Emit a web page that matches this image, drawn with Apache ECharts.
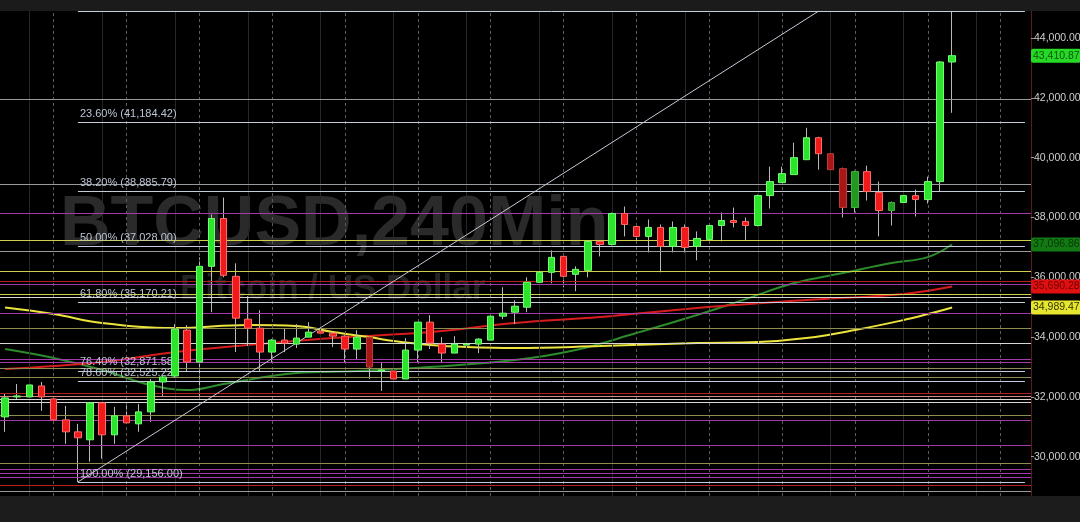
<!DOCTYPE html>
<html><head><meta charset="utf-8">
<script src="https://cdn.jsdelivr.net/npm/echarts@6/dist/echarts.min.js"></script>
<style>html,body{margin:0;padding:0;background:#000;}#c{width:1080px;height:522px;}</style>
</head><body><div id="c"></div><script>
// ---- data ----
const opens  = [31333,32000,32000,32367,31933,31233,30833,30567,31800,30733,31367,31100,31500,32500,32700,34233,33167,36367,37967,36033,34600,34300,33500,33900,33767,34000,34200,34133,34033,33600,34000,32867,32867,32600,33567,34500,33767,33467,33733,33767,33900,34700,34833,35000,35833,36167,36700,36100,36233,37200,37100,38133,37700,37367,37667,37033,37667,37033,37267,37733,37900,37867,37733,38733,39167,39433,39933,40667,40133,39633,38333,39533,38833,38233,38500,38733,38600,39200,43200];
const closes = [31967,32033,32400,32000,31233,30833,30633,31800,30733,31367,31133,31500,32500,32667,34267,33167,36367,37967,36067,34633,34300,33500,33900,33800,33967,34167,34133,34033,33600,34000,33000,32900,32600,33567,34500,33800,33467,33767,33767,33933,34700,34800,35033,35833,36167,36667,36033,36267,37200,37100,38133,37767,37367,37667,37033,37667,37000,37300,37733,37900,37833,37733,38733,39200,39467,40000,40667,40133,39600,38333,39533,38867,38233,38500,38733,38600,39200,43200,43410.87];
const lows   = [30833,31900,32000,31533,31200,30433,29156,29833,29933,30433,31100,30833,31167,32033,32700,32833,32033,34833,36000,33500,33700,32867,33167,33500,33633,34000,33867,33667,33167,33267,32600,32200,32367,32600,33167,33600,33133,33467,33433,33467,33900,34600,34433,34833,35367,35800,35667,35533,36000,36700,37067,37367,37167,36833,36167,36833,36833,36567,37233,37200,37667,37233,37700,38300,39167,39433,39933,39600,38733,38000,38167,38567,37367,37733,38367,38033,38467,38867,41500];
const highs  = [32100,32433,33000,32500,31967,31700,31100,31833,31833,31667,31767,31767,32600,32700,34433,34400,36667,38100,38667,36467,35367,34900,33933,34300,34433,34500,34833,34167,34067,34233,34033,33167,33233,33967,34500,34733,34000,34033,34167,33967,34733,35667,35233,36000,36200,36900,36733,36367,37233,37233,38167,38367,37767,37933,37767,37867,37767,37533,37767,38167,38333,38000,38767,39700,39700,40500,41000,40700,40500,39667,39567,39733,39200,38533,39200,38933,39367,43233,44900];
const emptySlots = 6;

// moving averages, [candle index, value]
const maYellow = [[0,34989],[4,34770],[8,34470],[14,34302],[20,34403],[24,34369],[27,34168],[30,34001],[32,33868],[35,33734],[38,33667],[42,33634],[49,33701],[57,33801],[62,33834],[66,33968],[70,34236],[74,34570],[76,34770],[78,34989.47]];
const maRed    = [[0,32932],[8,33166],[14,33500],[20,33734],[27,33968],[35,34168],[42,34470],[49,34670],[57,34971],[66,35239],[74,35440],[78,35690.28]];
const maGreen  = [[0,33600],[4,33300],[8,32898],[12,32396],[15,32229],[18,32430],[24,32798],[29,32865],[35,32999],[42,33233],[47,33567],[52,34135],[57,34737],[61,35272],[65,35807],[69,36141],[73,36476],[76,36676],[78,37096.86]];

// fibonacci retracement
const fibPct  = ['0.00%','23.60%','38.20%','50.00%','61.80%','76.40%','78.60%','100.00%'];
const fibVals = [44900,41184.42,38885.79,37028.00,35170.21,32871.58,32525.22,29156.00];
const fibStart = 6;
const trendLine = [[6,29156],[67,44900]];

// horizontal levels by colour group
const grayLevels    = [41962,39120,36879,28854];
const whiteLevels   = [35341,33803,31930,31830];
const magentaLevels = [38150,35776,34806,33268,33168,31228,30392,29590,29456,29322];
const yellowLevels  = [37247,36211,35441];
const oliveLevels   = [34305,32967,32666,31395,29790];
const redLevels     = [35876,32131,29055];
const pinkLevels    = [32030];

const yTicks = [30000,32000,34000,36000,38000,40000,42000,44000];
const lastPrice = 43410.87, lastGreen = 37096.86, lastRed = 35690.28, lastYellow = 34989.47;
const dimCandles = [30,68,69,70,73];

// ---- build chart ----
const fmt = v => v.toLocaleString('en-US',{minimumFractionDigits:2,maximumFractionDigits:2});
const nCat = opens.length + emptySlots;
const cats = []; for (let i=0;i<nCat;i++) cats.push(String(i));

const wickData = opens.map((o,i)=>[o,closes[i],lows[i],highs[i]]);
const bodyData = opens.map((o,i)=>{
  const c = closes[i];
  const it = {value:[o,c,Math.min(o,c),Math.max(o,c)]};
  if (dimCandles.includes(i)) it.itemStyle = c>=o ? {color:'#1f9a1f',color0:'#1f9a1f',borderColor:'#3fb03f',borderColor0:'#3fb03f'} : {color:'#a81616',color0:'#a81616',borderColor:'#c03a3a',borderColor0:'#c03a3a'};
  return it;
});

const levelGroups = [
  [grayLevels,'#9a9a9a'],[whiteLevels,'#d6d6d6'],[magentaLevels,'#a23aaa'],
  [yellowLevels,'#cfcf4a'],[oliveLevels,'#8e8c4e'],[redLevels,'#b41e1e'],[pinkLevels,'#d88a8a']
];
const levelLines = [];
levelGroups.forEach(([arr,col])=>arr.forEach(v=>levelLines.push({yAxis:v,lineStyle:{color:col,width:1,type:'solid'}})));

const fibLines = fibVals.map((v,k)=>[
  {coord:[String(fibStart),v], lineStyle:{color:'#c4ccda',width:1,type:'solid'},
   label:{show:k>0, position:'insideStartTop', distance:[2,3], formatter: fibPct[k]+' ('+fmt(v)+')', color:'#bcc4d4', fontSize:11, fontFamily:'Liberation Sans, Arial'}},
  {coord:[String(nCat-1),v]}
]);
fibLines.push([{coord:[String(trendLine[0][0]),trendLine[0][1]], lineStyle:{color:'#c8c8d8',width:1,type:'solid'}, label:{show:false}},{coord:[String(trendLine[1][0]),trendLine[1][1]]}]);

const vLines = [];
for (let i=4;i<nCat;i+=6) vLines.push({xAxis:String(i), lineStyle:{color:'#5c5c5c',width:1,type:[3,3]}});
for (let i=2;i<nCat;i+=6) vLines.push({xAxis:String(i), lineStyle:{color:'#262626',width:1,type:'solid'}});

const tagDefs = [
  [lastPrice,'#27d827','#0b560b'],[lastGreen,'#137a13','#063806'],
  [lastRed,'#e01010','#6a0000'],[lastYellow,'#e6e62e','#333300']
];
const tagLines = tagDefs.map(([v,bg,fg])=>({yAxis:v, lineStyle:{color:'rgba(0,0,0,0)',width:0},
  label:{show:true, position:'end', distance:0, formatter:fmt(v), backgroundColor:bg, color:fg, padding:[2,1,1,2], borderRadius:2, fontSize:10.5, fontFamily:'Liberation Sans, Arial'}}));

const mk = (data)=>({silent:true, symbol:['none','none'], animation:false, label:{show:false}, data});

const chart = echarts.init(document.getElementById('c'), null, {renderer:'canvas'});
chart.setOption({
  backgroundColor:'#000',
  animation:false,
  textStyle:{fontFamily:'Liberation Sans, Arial'},
  graphic:[
    {type:'rect', z:0, shape:{x:0,y:0,width:1080,height:11}, style:{fill:'#1b1b1b'}},
    {type:'rect', z:0, shape:{x:0,y:496,width:1080,height:26}, style:{fill:'#1c1c1c'}},
    {type:'text', z:0, x:60, y:226, style:{text:'BTCUSD,240Min', font:'bold 70px "Liberation Sans", Arial', fill:'#2a2a2a', textVerticalAlign:'middle'}},
    {type:'text', z:0, x:180, y:289, style:{text:'Bitcoin / US Dollar', font:'bold 35px "Liberation Sans", Arial', fill:'#232323', textVerticalAlign:'middle'}}
  ],
  grid:{left:-1, right:49, top:11, bottom:26, show:false, outerBoundsMode:'none', containLabel:false},
  xAxis:{type:'category', data:cats, boundaryGap:true, axisLine:{show:false}, axisTick:{show:false}, axisLabel:{show:false}, splitLine:{show:false}},
  yAxis:{type:'value', position:'right', min:28687, max:44905,
    axisLine:{show:true, lineStyle:{color:'#5e1a1a'}},
    axisTick:{show:true, length:3, customValues:yTicks, lineStyle:{color:'#9a9a9a'}},
    axisLabel:{customValues:yTicks, color:'#cfcfcf', fontSize:10.5, margin:3, formatter:v=>fmt(v)},
    splitLine:{show:false}},
  series:[
    {type:'line', name:'vgrid', data:[], z:1, clip:false, markLine:mk(vLines)},
    {type:'line', name:'levels', data:[], z:1, clip:false, markLine:mk(levelLines)},
    {type:'line', name:'fib', data:[], z:2, clip:true, markLine:mk(fibLines)},
    {type:'line', name:'maGreen', data:maGreen, smooth:0.4, showSymbol:false, z:3, lineStyle:{color:'#2c8c2c',width:2}},
    {type:'line', name:'maRed', data:maRed, smooth:0.4, showSymbol:false, z:3, lineStyle:{color:'#d81c1c',width:2}},
    {type:'line', name:'maYellow', data:maYellow, smooth:0.4, showSymbol:false, z:3, lineStyle:{color:'#ece43c',width:2}},
    {type:'candlestick', name:'wick', data:wickData, barWidth:1, z:4,
      itemStyle:{color:'#b8b8b8',color0:'#b8b8b8',borderColor:'#b8b8b8',borderColor0:'#b8b8b8',borderWidth:1}},
    {type:'candlestick', name:'body', data:bodyData, barWidth:7, z:5,
      itemStyle:{color:'#2be42b',color0:'#f01a1a',borderColor:'#70ff70',borderColor0:'#ff6a6a',borderWidth:1}},
    {type:'line', name:'tags', data:[], z:6, clip:false, markLine:mk(tagLines)}
  ]
});
</script></body></html>
